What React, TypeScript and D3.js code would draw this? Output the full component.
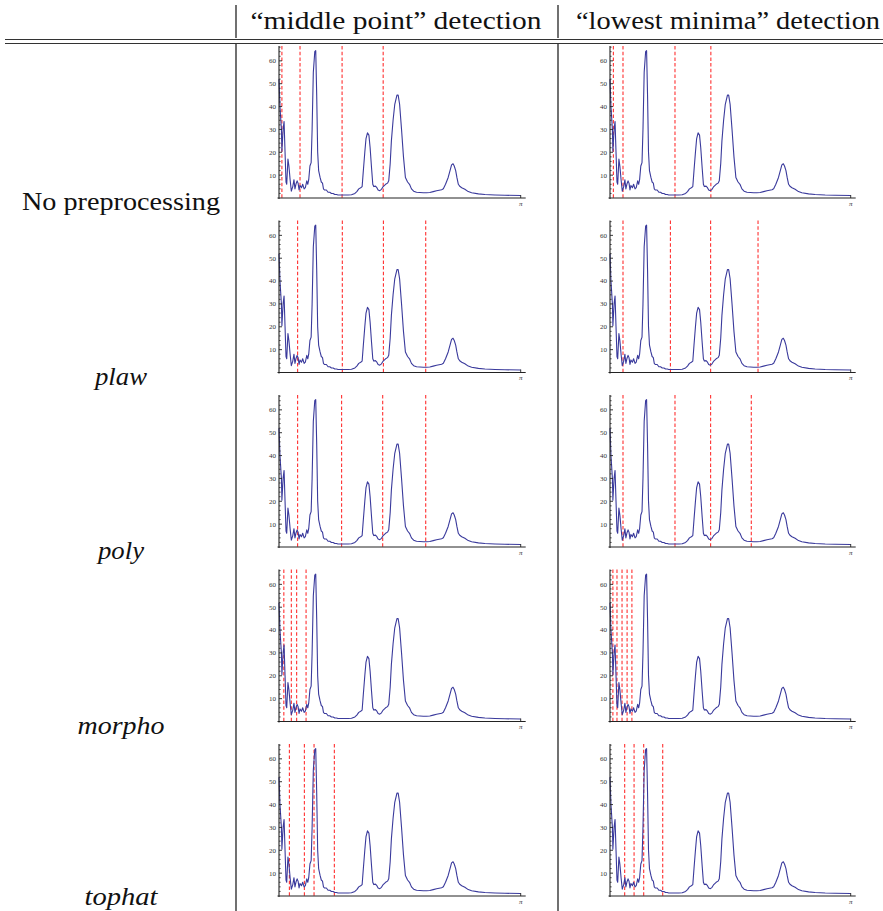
import React from 'react';
import * as d3 from 'd3';

// table text
const columnTitles = ['\u201cmiddle point\u201d detection', '\u201clowest minima\u201d detection'];
const rowLabels = ['No preprocessing', 'plaw', 'poly', 'morpho', 'tophat'];
const rowItalic = [false, true, true, true, true];

// spectrum, x as a fraction of pi
const spectrumX = [
  0.000, 0.004, 0.010, 0.012, 0.017, 0.021, 0.025, 0.029, 0.032, 0.037, 0.041, 0.046, 0.051, 0.057,
  0.062, 0.066, 0.070, 0.075, 0.079, 0.083, 0.087, 0.093, 0.098, 0.104, 0.109, 0.115, 0.119, 0.123,
  0.128, 0.133, 0.137, 0.142, 0.148, 0.152, 0.156, 0.160, 0.164, 0.170, 0.175, 0.180, 0.184, 0.188,
  0.196, 0.203, 0.210, 0.217, 0.224, 0.231, 0.238, 0.244, 0.258, 0.272, 0.286, 0.300, 0.314, 0.322,
  0.330, 0.338, 0.344, 0.349, 0.355, 0.360, 0.366, 0.372, 0.377, 0.383, 0.388, 0.392, 0.399, 0.405,
  0.410, 0.417, 0.424, 0.431, 0.441, 0.449, 0.454, 0.460, 0.465, 0.472, 0.479, 0.488, 0.493, 0.499,
  0.507, 0.515, 0.523, 0.532, 0.540, 0.548, 0.557, 0.569, 0.583, 0.597, 0.610, 0.624, 0.638, 0.652,
  0.673, 0.680, 0.689, 0.700, 0.709, 0.714, 0.720, 0.725, 0.731, 0.736, 0.742, 0.749, 0.756, 0.769,
  0.783, 0.797, 0.825, 0.852, 0.894, 0.935, 1.000,
];
const spectrumY = [
  52, 40, 30, 20.5, 30, 33.5, 20, 7, 6, 17, 14, 8, 3, 5,
  8, 4, 6, 7.5, 6.5, 3.5, 5.5, 4.5, 6, 4, 4.5, 7.5, 6, 8,
  14, 15.5, 30, 55, 64, 64.5, 45, 20, 12, 9, 7, 6.5, 4, 3.5,
  3.5, 2.5, 2.5, 2, 2, 1.5, 1.5, 1.3, 1.3, 1.3, 1.3, 1.4, 2, 2.8,
  4, 4.5, 5, 12, 20, 26, 28.5, 27.5, 22, 13, 6, 5, 5.2, 4.5,
  3.5, 3.2, 3.8, 5, 6, 6.5, 7.5, 15, 25, 34, 41, 45, 45, 41,
  30, 18, 9, 7, 6, 4, 3, 2.5, 2.4, 2.3, 2.3, 2.4, 2.8, 3.2,
  3.6, 4, 6, 9, 12.5, 14.5, 15, 14, 12, 9, 6, 5, 4.5, 3.8,
  2.8, 2.3, 1.8, 1.5, 1.3, 1.2, 1.1,
];

// detected cut positions (fraction of pi), one list per row
const middlePointCuts = [
  [0.012, 0.087, 0.261, 0.431],
  [0.077, 0.262, 0.432, 0.607],
  [0.077, 0.259, 0.429, 0.607],
  [0.020, 0.051, 0.073, 0.112],
  [0.043, 0.105, 0.145, 0.229],
];
const lowestMinimaCuts = [
  [0.014, 0.054, 0.270, 0.419],
  [0.054, 0.251, 0.418, 0.615],
  [0.054, 0.270, 0.418, 0.587],
  [0.012, 0.029, 0.050, 0.071, 0.091],
  [0.061, 0.100, 0.140, 0.219],
];

const yMajorTicks = [10, 20, 30, 40, 50, 60];
const yMinorTicks = [2, 4, 6, 8, 12, 14, 16, 18, 22, 24, 26, 28, 32, 34, 36, 38, 42, 44, 46, 48, 52, 54, 56, 58, 62, 64, 66];

const W = 883;
const H = 911;
const serif = '"Liberation Serif", "Times New Roman", serif';
const colLeft = [279, 610];
const colRight = [520.7, 850.7];
const firstBaseline = 198;
const rowStep = 174.5;
const plotHeight = 152;
const yMax = 66.5;

const points: [number, number][] = spectrumX.map((x, i) => [x, spectrumY[i]]);

function Panel({ col, row, cuts }: { col: number; row: number; cuts: number[] }) {
  const base = firstBaseline + row * rowStep;
  const x = d3.scaleLinear().domain([0, 1]).range([colLeft[col], colRight[col]]);
  const y = d3.scaleLinear().domain([0, yMax]).range([base, base - plotHeight]);
  const line = d3.line<[number, number]>().x(d => x(d[0])).y(d => y(d[1]));
  const x0 = x(0);
  return (
    <g>
      {cuts.map((c, i) => (
        <line key={i} x1={x(c)} x2={x(c)} y1={y(yMax)} y2={base + 2}
          stroke="#ff1a1a" strokeOpacity={0.9} strokeWidth={1.1} strokeDasharray="3.5,2.2" />
      ))}
      <path d={line(points) || ''} fill="none" stroke="#3a3a9c" strokeWidth={1.1} strokeLinejoin="round" />
      {/* axes */}
      <line x1={x0 - 1.5} x2={x(1) + 5} y1={base} y2={base} stroke="#222" strokeWidth={1} />
      <line x1={x0} x2={x0} y1={base + 1} y2={y(yMax)} stroke="#222" strokeWidth={1.1} />
      {yMinorTicks.map(t => (
        <line key={'m' + t} x1={x0} x2={x0 + 1.6} y1={y(t)} y2={y(t)} stroke="#222" strokeWidth={0.8} />
      ))}
      {yMajorTicks.map(t => (
        <g key={'M' + t}>
          <line x1={x0} x2={x0 + 3} y1={y(t)} y2={y(t)} stroke="#222" strokeWidth={0.9} />
          <text x={x0 - 3} y={y(t) + 2.4} fill="#333" textAnchor="end"
            style={{ fontSize: '7px', fontFamily: serif }}>{t}</text>
        </g>
      ))}
      <line x1={x(1)} x2={x(1)} y1={base} y2={base - 3} stroke="#222" strokeWidth={0.9} />
      <text x={x(1)} y={base + 7.5} fill="#333" textAnchor="middle"
        style={{ fontSize: '7px', fontStyle: 'italic', fontFamily: serif }}>π</text>
    </g>
  );
}

export default function App() {
  const labelBaselines = rowLabels.map((_, i) => 210 + i * rowStep);
  const titleWidths = [291, 304];
  const titleCenters = [396, 728];
  const labelWidths = [198, 52, 46, 87, 73];
  return (
    <div style={{ position: 'absolute', left: 0, top: 0 }}>
      <svg width={W} height={H} style={{ display: 'block', background: '#fff' }}>
        {/* table rules */}
        <line x1={236} x2={236} y1={5} y2={38} stroke="#111" strokeWidth={1.2} />
        <line x1={558} x2={558} y1={5} y2={38} stroke="#111" strokeWidth={1.2} />
        <line x1={5} x2={W} y1={39.5} y2={39.5} stroke="#333" strokeWidth={1.2} />
        <line x1={5} x2={W} y1={43.5} y2={43.5} stroke="#333" strokeWidth={1.2} />
        <line x1={236} x2={236} y1={44} y2={H} stroke="#111" strokeWidth={1.2} />
        <line x1={558} x2={558} y1={44} y2={H} stroke="#111" strokeWidth={1.2} />
        {columnTitles.map((t, i) => (
          <text key={t} x={titleCenters[i]} y={29} textAnchor="middle" fill="#111"
            textLength={titleWidths[i]} lengthAdjust="spacingAndGlyphs"
            style={{ fontSize: '25px', fontFamily: serif }}>{t}</text>
        ))}
        {rowLabels.map((t, i) => (
          <text key={t} x={121} y={labelBaselines[i] - (i === 4 ? 3 : 0)} textAnchor="middle" fill="#111"
            textLength={labelWidths[i]} lengthAdjust="spacingAndGlyphs"
            style={{ fontSize: '25px', fontFamily: serif, fontStyle: rowItalic[i] ? 'italic' : 'normal' }}>{t}</text>
        ))}
        {rowLabels.map((t, r) => (
          <g key={'p' + r}>
            <Panel col={0} row={r} cuts={middlePointCuts[r]} />
            <Panel col={1} row={r} cuts={lowestMinimaCuts[r]} />
          </g>
        ))}
      </svg>
    </div>
  );
}
